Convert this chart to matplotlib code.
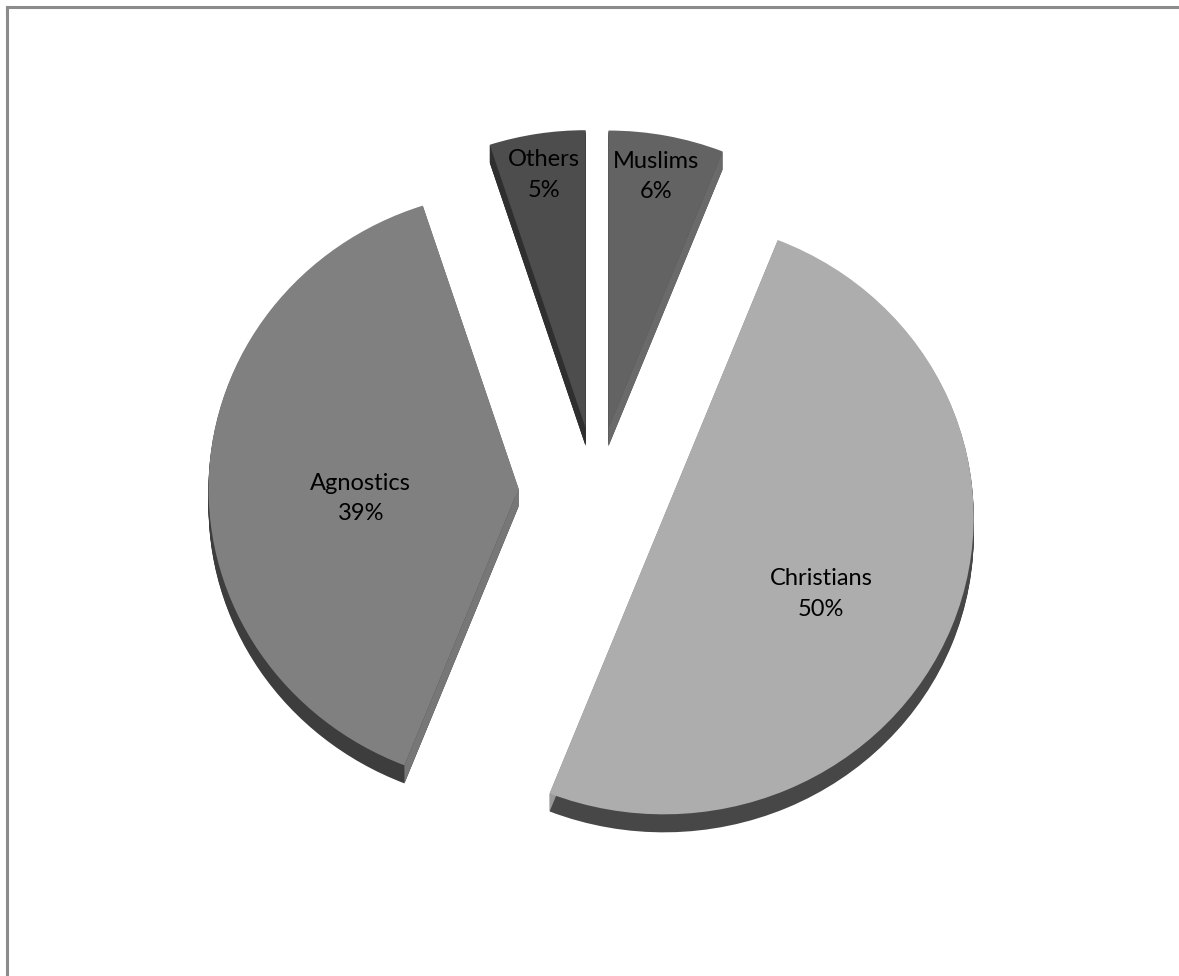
import matplotlib.pyplot as plt
import numpy as np
from matplotlib.patches import Polygon
from matplotlib.lines import Line2D

# religion shares, clockwise from 12 o'clock
names = ['Muslims', 'Christians', 'Agnostics', 'Others']
shares = [6, 50, 39, 5]
explode = [0.215, 0.235, 0.25, 0.215]   # fraction of radius

top_colors = ['#636363', '#adadad', '#808080', '#4d4d4d']
side_colors = ['#505050', '#474747', '#3d3d3d', '#333333']
face_colors = ['#6a6a6a', '#9a9a9a', '#777777', '#2f2f2f']

# label placement: fraction of radius from the slice tip, angle tweak (deg)
label_frac = [0.86, 0.57, 0.51, 0.86]
label_turn = [0.5, -5.5, 5.6, 0.0]

W, H = 1179, 976
k = 0.96            # slight vertical squash for the tilted look
R = 310
cx, cy = 596, (H - 491) / k
depth = 18 / k


def main():
    fig = plt.figure(figsize=(W / 100, H / 100), dpi=100)
    ax = fig.add_axes([0, 0, 1, 1])
    expl = [e * R for e in explode]

    # extruded body: stack of shifted dark copies
    for s in np.linspace(depth, 1, 18):
        wedges, _ = ax.pie(shares, explode=expl, colors=side_colors,
                           startangle=90, counterclock=False, radius=R,
                           center=(cx, cy - s))
        for w in wedges:
            w.set_zorder(1)
            w.set_linewidth(0)

    wedges, _ = ax.pie(shares, explode=expl, colors=top_colors,
                       startangle=90, counterclock=False, radius=R,
                       center=(cx, cy))
    for w, fc in zip(wedges, face_colors):
        w.set_zorder(3)
        w.set_linewidth(0)
        x0, y0 = w.center
        for th in (w.theta1, w.theta2):
            t = np.radians(th)
            x1, y1 = x0 + w.r * np.cos(t), y0 + w.r * np.sin(t)
            quad = [(x0, y0), (x1, y1), (x1, y1 - depth), (x0, y0 - depth)]
            ax.add_patch(Polygon(quad, closed=True, facecolor=fc,
                                 edgecolor='none', zorder=2))

    for w, name, val, fr, turn in zip(wedges, names, shares,
                                      label_frac, label_turn):
        x0, y0 = w.center
        mid = np.radians((w.theta1 + w.theta2) / 2 + turn)
        ax.text(x0 + fr * R * np.cos(mid), y0 + fr * R * np.sin(mid),
                '{}\n{}%'.format(name, val), ha='center', va='center',
                fontsize=17, family='Lato', color='black',
                linespacing=1.55, zorder=5)

    ax.set_xlim(0, W)
    ax.set_ylim(0, H / k)
    ax.set_aspect('auto')
    ax.axis('off')

    # chart border (only top and left edges fall inside the picture)
    bc = '#8c8c8c'
    fig.add_artist(Line2D([7 / W, 7 / W], [0, 1 - 7 / H],
                          transform=fig.transFigure, color=bc, lw=2.2))
    fig.add_artist(Line2D([7 / W, 1], [1 - 7 / H, 1 - 7 / H],
                          transform=fig.transFigure, color=bc, lw=2.2))

    fig.savefig('out.png', dpi=100, facecolor='white')


if __name__ == '__main__':
    main()
